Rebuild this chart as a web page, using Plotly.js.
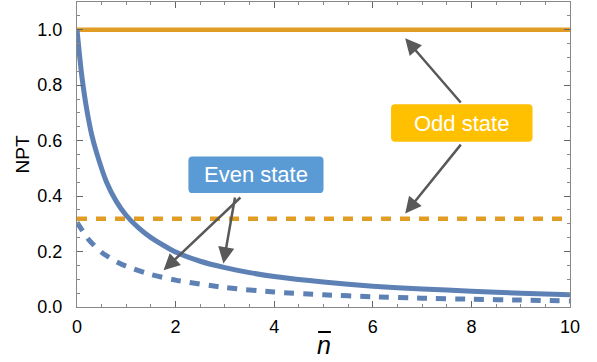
<!DOCTYPE html>
<html>
<head>
<meta charset="utf-8">
<script src="https://cdn.plot.ly/plotly-3.0.1.min.js"></script>
<style>html,body{margin:0;padding:0;background:#fff;}#chart{width:597px;height:362px;}</style>
</head>
<body>
<div id="chart"></div>
<script>
// Data
const evenSolidX = [0, 0.05, 0.1, 0.2, 0.3, 0.4, 0.6, 0.8, 1, 1.25, 1.5, 2, 2.5, 3, 3.5, 4, 5, 6, 7, 8, 9, 10];
const evenSolidY = [1.0, 0.91, 0.83, 0.71, 0.62, 0.555, 0.45, 0.38, 0.33, 0.285, 0.25, 0.198, 0.165, 0.142, 0.124, 0.11, 0.09, 0.075, 0.065, 0.057, 0.05, 0.044];
const evenDashX = [0, 0.25, 0.5, 0.75, 1, 1.5, 2, 3, 4, 5, 6, 7, 8, 9, 10];
const evenDashY = [0.305, 0.24, 0.197, 0.168, 0.147, 0.117, 0.097, 0.07, 0.054, 0.044, 0.037, 0.032, 0.028, 0.025, 0.022];
const oddSolidX = [0, 10];
const oddSolidY = [1.0, 1.0];
const oddDashX = [0, 9.85];
const oddDashY = [0.318, 0.318];
const xTicks = [0, 2, 4, 6, 8, 10];
const yTicks = [0, 0.2, 0.4, 0.6, 0.8, 1.0];

const BLUE = '#5E81B5', ORANGE = '#E19C24';
const FONT = '"Liberation Sans", Arial, Helvetica, sans-serif';

const traces = [
  {x: oddSolidX, y: oddSolidY, mode: 'lines', line: {color: ORANGE, width: 4.5}},
  {x: oddDashX, y: oddDashY, mode: 'lines', line: {color: ORANGE, width: 4.5, dash: '10px,9px'}},
  {x: evenSolidX, y: evenSolidY, mode: 'lines', line: {color: BLUE, width: 5, shape: 'spline', smoothing: 0.6}},
  {x: evenDashX, y: evenDashY, mode: 'lines', line: {color: BLUE, width: 5, dash: '10px,9px', shape: 'spline', smoothing: 0.6}}
];

function roundRect(x0, x1, y0, y1, rx, ry) {
  return `M${x0+rx},${y0} L${x1-rx},${y0} Q${x1},${y0} ${x1},${y0+ry} L${x1},${y1-ry} Q${x1},${y1} ${x1-rx},${y1} L${x0+rx},${y1} Q${x0},${y1} ${x0},${y1-ry} L${x0},${y0+ry} Q${x0},${y0} ${x0+rx},${y0} Z`;
}

const arrowBase = {text: '', showarrow: true, arrowhead: 2, arrowsize: 1.3, arrowwidth: 2.5, arrowcolor: '#595959', axref: 'x', ayref: 'y', xref: 'x', yref: 'y', standoff: 0, startstandoff: 0};

const layout = {
  width: 597, height: 362,
  margin: {l: 77, r: 27, t: 2, b: 55},
  paper_bgcolor: '#fff', plot_bgcolor: '#fff',
  showlegend: false,
  font: {family: FONT, color: '#000'},
  xaxis: {
    range: [0, 10], tickvals: xTicks, ticktext: xTicks.map(String),
    ticks: 'inside', ticklen: 6, tickwidth: 1, tickcolor: '#666',
    minor: {dtick: 0.5, ticklen: 3, tickcolor: '#888', ticks: 'inside'},
    showline: true, linecolor: '#888', linewidth: 1.2, mirror: 'allticks',
    showgrid: false, zeroline: false,
    tickfont: {family: FONT, size: 18, color: '#000'}, ticklabelstandoff: 3
  },
  yaxis: {
    range: [0, 1.1], tickvals: yTicks, ticktext: yTicks.map(v => v.toFixed(1)),
    ticks: 'inside', ticklen: 6, tickwidth: 1, tickcolor: '#666',
    minor: {dtick: 0.05, ticklen: 3, tickcolor: '#888', ticks: 'inside'},
    showline: true, linecolor: '#888', linewidth: 1.2, mirror: 'allticks',
    showgrid: false, zeroline: false,
    tickfont: {family: FONT, size: 18, color: '#000'}, ticklabelstandoff: 10,
    title: {text: 'NPT', font: {family: FONT, size: 19, color: '#000'}, standoff: 2}
  },
  shapes: [
    {type: 'path', xref: 'x', yref: 'y', path: roundRect(2.26, 5.0, 0.411, 0.543, 0.08, 0.015), fillcolor: '#5B9BD5', line: {width: 0}},
    {type: 'path', xref: 'x', yref: 'y', path: roundRect(6.37, 9.24, 0.596, 0.731, 0.08, 0.015), fillcolor: '#FFC000', line: {width: 0}},
    {type: 'line', xref: 'paper', yref: 'paper', x0: 0.489, x1: 0.515, y0: -0.082, y1: -0.082, line: {color: '#000', width: 2}}
  ],
  annotations: [
    Object.assign({}, arrowBase, {x: 1.755, y: 0.1325, ax: 3.345, ay: 0.40}),
    Object.assign({}, arrowBase, {x: 2.97, y: 0.157, ax: 3.21, ay: 0.40}),
    Object.assign({}, arrowBase, {x: 6.657, y: 0.969, ax: 7.81, ay: 0.732}),
    Object.assign({}, arrowBase, {x: 6.657, y: 0.337, ax: 7.81, ay: 0.591}),
    {x: 3.63, y: 0.477, xref: 'x', yref: 'y', text: 'Even state', showarrow: false, font: {family: FONT, size: 22, color: '#fff'}},
    {x: 7.805, y: 0.6635, xref: 'x', yref: 'y', text: 'Odd state', showarrow: false, font: {family: FONT, size: 22, color: '#fff'}},
    {x: 0.5, y: -0.072, xref: 'paper', yref: 'paper', xanchor: 'center', yanchor: 'top', text: '<i>n</i>', showarrow: false, font: {family: FONT, size: 25, color: '#000'}}
  ]
};

Plotly.newPlot('chart', traces, layout, {displayModeBar: false, staticPlot: true});
</script>
</body>
</html>
